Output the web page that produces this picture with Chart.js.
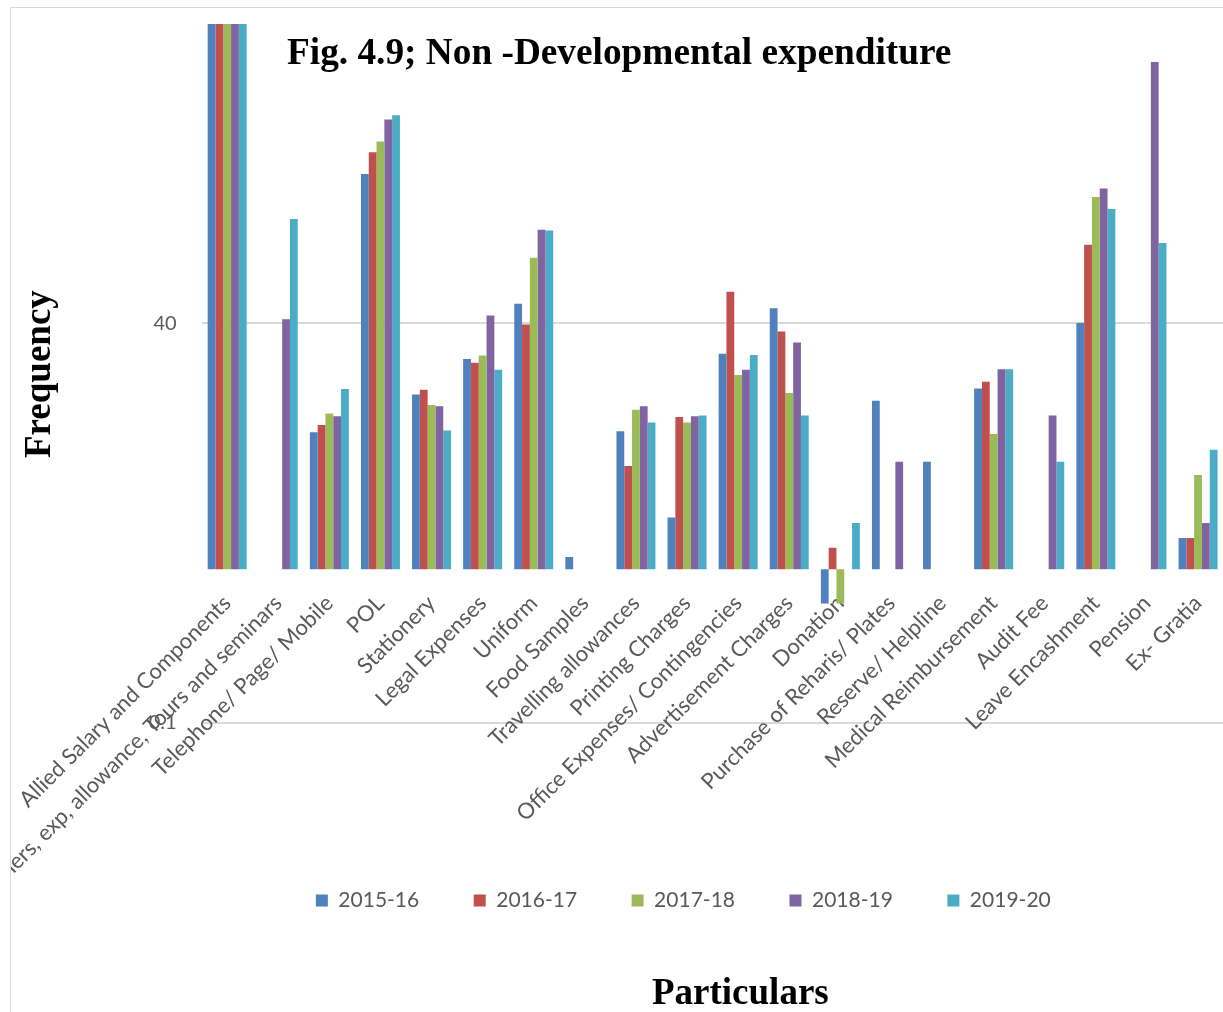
<!DOCTYPE html>
<html>
<head>
<meta charset="utf-8">
<title>Non-Developmental expenditure</title>
<script src="https://cdn.jsdelivr.net/npm/chart.js@4.4.1/dist/chart.umd.min.js"></script>
<style>
  html, body { margin: 0; padding: 0; background: #fff; overflow: hidden; }
  body { width: 1223px; height: 1012px; position: relative; }
  #frame { position: absolute; left: 10px; top: 7px; width: 1230px; height: 1010px; border: 1px solid #d9d9d9; }
  #chart { display: block; }
  .caption { position: absolute; font-family: "Liberation Serif", "Times New Roman", serif; font-weight: bold;
             font-size: 37px; line-height: 37px; color: #000; white-space: nowrap; }
  #title { left: 287px; top: 33px; font-size: 37.3px; }
  #xTitle { left: 652px; top: 973px; }
  #yTitle { left: 19px; top: 458px; transform-origin: 0 0; transform: rotate(-90deg); }
</style>
</head>
<body>
<div id="frame"><canvas id="chart" width="1230" height="1010"></canvas></div>
<div class="caption" id="title">Fig. 4.9; Non -Developmental expenditure</div>
<div class="caption" id="yTitle">Frequency</div>
<div class="caption" id="xTitle">Particulars</div>

<script>
// expenditure heads
const particulars = [
    'Allied Salary and Components',
    'Others, exp, allowance, Tours and seminars',
    'Telephone/ Page/ Mobile',
    'POL',
    'Stationery',
    'Legal Expenses',
    'Uniform',
    'Food Samples',
    'Travelling allowances',
    'Printing Charges',
    'Office Expenses/ Contingencies',
    'Advertisement Charges',
    'Donation',
    'Purchase of Reharis/ Plates',
    'Reserve/ Helpline',
    'Medical Reimbursement',
    'Audit Fee',
    'Leave Encashment',
    'Pension',
    'Ex- Gratia'
];

// yearly figures, null where nothing was spent
const fy1516 = [5000, null, 7.8, 373, 13.7, 23.3, 53.4, 1.2, 7.9, 2.17, 25.3, 50, 0.6, 12.5, 5, 15, null, 40, null, 1.6];
const fy1617 = [5000, null, 8.7, 517, 14.7, 22.1, 39.1, null, 4.7, 9.8, 63.9, 35.2, 1.38, null, null, 16.6, null, 129.5, null, 1.6];
const fy1718 = [5000, null, 10.3, 608, 11.7, 24.6, 106.5, null, 10.9, 9.0, 18.4, 14.0, 0.6, null, null, 7.6, null, 264.5, null, 4.1];
const fy1819 = [5000, 42.4, 9.9, 845, 11.5, 44.8, 162, null, 11.5, 9.9, 19.9, 29.9, null, 5, null, 20, 10, 300, 2000, 2];
const fy1920 = [5000, 190, 14.9, 898, 8.0, 19.9, 160, null, 9.0, 10, 24.8, 10, 2, null, null, 20, 5, 221, 132.6, 6];

const seriesNames = ['2015-16', '2016-17', '2017-18', '2018-19', '2019-20'];
const seriesColors = ['#4F81BD', '#C0504D', '#9BBB59', '#8064A2', '#4BACC6'];

// log axis: only two gridlines, range a bit wider than the ticks
const yTicks = [0.1, 40];
const yMin = 0.01853;
const yMax = 3530;

const datasets = [fy1516, fy1617, fy1718, fy1819, fy1920].map((values, i) => ({
    label: seriesNames[i],
    data: values,
    backgroundColor: seriesColors[i],
    borderWidth: 0,
    base: 1,              // bars grow from 1, so values under 1 hang down
    clip: 0,
    categoryPercentage: 0.763,
    barPercentage: 1
}));

const ctx = document.getElementById('chart').getContext('2d');
const expenditureChart = new Chart(ctx, {
    type: 'bar',
    data: { labels: particulars, datasets: datasets },
    options: {
        responsive: false,
        animation: false,
        layout: { padding: { left: 132, right: 17.4, top: 16, bottom: 97 } },
        plugins: {
            legend: {
                position: 'bottom',
                labels: {
                    boxWidth: 12, boxHeight: 12, padding: 54.5,
                    color: '#595959', font: { family: 'Lato', size: 21 }
                }
            },
            tooltip: { enabled: false }
        },
        scales: {
            x: {
                position: { y: 1 },
                offset: true,
                grid: { display: false, drawTicks: false },
                border: { display: false },
                ticks: {
                    autoSkip: false,
                    minRotation: 45,
                    maxRotation: 45,
                    padding: 21,
                    color: '#595959',
                    font: { family: 'Lato', size: 22 }
                },
                afterFit: scale => { scale.paddingLeft = 0; scale.paddingRight = 0; }
            },
            y: {
                type: 'logarithmic',
                min: yMin,
                max: yMax,
                border: { display: false },
                grid: { color: '#d9d9d9', lineWidth: 2, drawTicks: false },
                ticks: {
                    padding: 25, color: '#595959', font: { family: 'Lato', size: 20 },
                    callback: v => String(v)
                },
                afterBuildTicks: scale => { scale.ticks = yTicks.map(v => ({ value: v })); },
                afterFit: scale => {
                    scale.width = 58.6;
                    scale.paddingTop = 0;
                    scale.paddingBottom = 0;
                }
            }
        }
    }
});
</script>
</body>
</html>
